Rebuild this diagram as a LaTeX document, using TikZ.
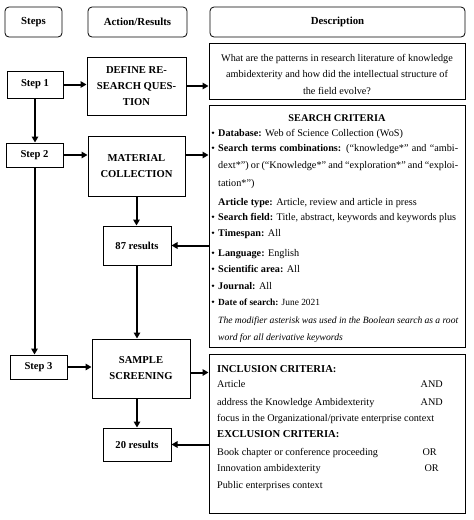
\documentclass[tikz,border=0pt]{standalone}
\usepackage{fontspec}
\setmainfont{Liberation Serif}
\usetikzlibrary{arrows.meta}
\begin{document}
\begin{tikzpicture}[x=1pt,y=-1pt,
 hdr/.style={draw, rounded corners=4pt, line width=0.8pt, inner sep=0pt, font=\bfseries\fontsize{10.8}{12}\selectfont},
 bx/.style={draw, line width=1pt, inner sep=0pt, align=center, font=\bfseries\fontsize{10.6}{16}\selectfont},
 dbx/.style={draw, line width=1pt, inner sep=0pt},
 arr/.style={line width=2pt, -{Triangle[length=6pt,width=6.5pt]}},
 txt/.style={anchor=base west, inner sep=0pt, font=\fontsize{10.2}{12}\selectfont},
 ctxt/.style={anchor=base, inner sep=0pt, font=\fontsize{10.2}{12}\selectfont},
 rtxt/.style={anchor=base east, inner sep=0pt, font=\fontsize{10.2}{12}\selectfont},
 ttl/.style={anchor=base, inner sep=0pt, font=\bfseries\fontsize{10.3}{12}\selectfont},
 bul/.style={circle, fill=black, inner sep=0pt, minimum size=2.6pt, yshift=3.3pt},
]
\useasboundingbox (0,0) rectangle (474,520);
% headers
\node[hdr, minimum width=57pt, minimum height=30pt] (hs) at (33.5,22) {Steps};
\node[hdr, minimum width=99pt, minimum height=30pt] (ha) at (137.5,22) {Action/Results};
\node[hdr, minimum width=255pt, minimum height=30pt] (hd) at (337.5,22) {Description};
% step boxes
\node[bx, minimum width=56pt, minimum height=27pt] (s1) at (35,84.5) {Step 1};
\node[bx, minimum width=57pt, minimum height=24pt] (s2) at (34.5,155) {Step 2};
\node[bx, minimum width=57pt, minimum height=24pt] (s3) at (38.5,367) {Step 3};
% action boxes
\node[bx, minimum width=99pt, minimum height=58pt] (def) at (136.5,86) {DEFINE RE-\\SEARCH QUES-\\TION};
\node[bx, minimum width=97pt, minimum height=60pt] (mat) at (136.5,166) {MATERIAL\\COLLECTION};
\node[bx, minimum width=68pt, minimum height=39pt] (r87) at (137,245.5) {87 results};
\node[bx, minimum width=98pt, minimum height=59pt] (samp) at (141,368.5) {SAMPLE\\SCREENING};
\node[bx, minimum width=68pt, minimum height=33pt] (r20) at (137,444.5) {20 results};
% description boxes
\node[dbx, minimum width=256pt, minimum height=56pt] (q) at (337,71) {};
\node[dbx, minimum width=256pt, minimum height=242pt] (sc) at (337,226) {};
\node[dbx, minimum width=256pt, minimum height=159pt] (inc) at (337,433.5) {};
% question text
\node[ctxt] (q1) at (337,61) {What are the patterns in research literature of knowledge};
\node[ctxt] (q2) at (337,77) {ambidexterity and how did the intellectual structure of};
\node[ctxt] (q3) at (337,94) {the field evolve?};
% search criteria
\node[ttl] (st) at (337,121) {SEARCH CRITERIA};
\node[bul] (b1) at (213,136) {};
\node[txt] (l1) at (218,136) {\textbf{Database:} Web of Science Collection (WoS)};
\node[bul] (b2) at (213,151) {};
\node[txt] (l2) at (218,151) {\makebox[240pt][s]{\textbf{Search terms combinations:} (``knowledge*'' and ``ambi-}};
\node[txt] (l3) at (218,168) {\makebox[240pt][s]{dext*'') or (``Knowledge*'' and ``exploration*'' and ``exploi-}};
\node[txt] (l4) at (218,186) {tation*'')};
\node[txt] (l5) at (218,205) {\textbf{Article type:} Article, review and article in press};
\node[bul] (b6) at (213,220) {};
\node[txt] (l6) at (218,220) {\textbf{Search field:} Title, abstract, keywords and keywords plus};
\node[bul] (b7) at (213,236) {};
\node[txt] (l7) at (218,236) {\textbf{Timespan:} All};
\node[bul] (b8) at (213,256) {};
\node[txt] (l8) at (218,256) {\textbf{Language:} English};
\node[bul] (b9) at (213,272) {};
\node[txt] (l9) at (218,272) {\textbf{Scientific area:} All};
\node[bul] (b10) at (213,289) {};
\node[txt] (l10) at (218,289) {\textbf{Journal:} All};
\node[bul] (b11) at (213,305) {};
\node[txt, font=\fontsize{9.4}{11}\selectfont] (l11) at (218,305) {\textbf{Date of search:} June 2021};
\node[txt, font=\fontsize{9.6}{11}\selectfont] (l12) at (218,323) {\makebox[240pt][s]{\itshape The modifier asterisk was used in the Boolean search as a root}};
\node[txt, font=\fontsize{9.6}{11}\selectfont] (l13) at (218,340) {\itshape word for all derivative keywords};
% inclusion / exclusion
\node[txt, font=\bfseries\fontsize{10.6}{12}\selectfont] (it) at (217,372) {INCLUSION CRITERIA:};
\node[txt] (i1) at (217,387) {Article};
\node[rtxt] (i1a) at (443,387) {AND};
\node[txt] (i2) at (217,405) {address the Knowledge Ambidexterity};
\node[rtxt] (i2a) at (443,405) {AND};
\node[txt] (i3) at (217,421) {focus in the Organizational/private enterprise context};
\node[txt, font=\bfseries\fontsize{10.6}{12}\selectfont] (et) at (217,437) {EXCLUSION CRITERIA:};
\node[txt] (e1) at (217,455) {Book chapter or conference proceeding};
\node[rtxt] (e1a) at (437,455) {OR};
\node[txt] (e2) at (217,471) {Innovation ambidexterity};
\node[rtxt] (e2a) at (439,471) {OR};
\node[txt] (e3) at (217,488) {Public enterprises context};
% arrows
\draw[arr] (s1.east) -- (s1.east -| def.west);
\draw[arr] (def.east) -- (def.east -| q.west);
\draw[arr] (s1.south) -- (s1.south |- s2.north);
\draw[arr] (s2.east) -- (s2.east -| mat.west);
\draw[arr] (mat.east |- s2.east) -- (sc.west |- s2.east);
\draw[arr] (mat.south) -- (mat.south |- r87.north);
\draw[arr] (sc.west |- r87.east) -- (r87.east);
\draw[arr] (s2.south) -- (s2.south |- s3.north);
\draw[arr] (r87.south) -- (r87.south |- samp.north);
\draw[arr] (s3.east) -- (s3.east -| samp.west);
\draw[arr] ([yshift=-4pt]samp.east) -- ([yshift=-4pt]samp.east -| inc.west);
\draw[arr] (samp.south -| r20.north) -- (r20.north);
\draw[arr] (inc.west |- r20.east) -- (r20.east);
\end{tikzpicture}
\end{document}
